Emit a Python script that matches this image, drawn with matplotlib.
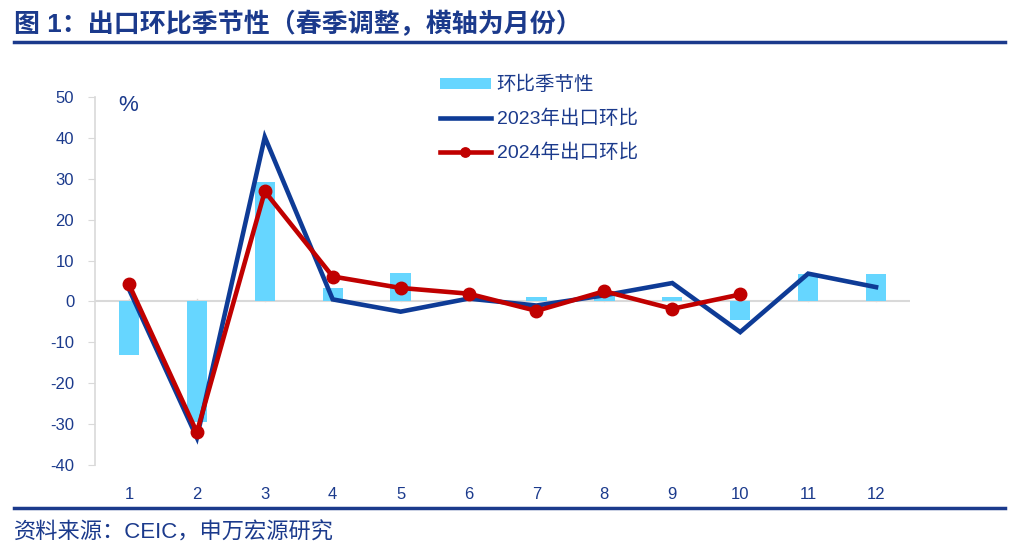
import matplotlib
matplotlib.use("Agg")
import matplotlib.pyplot as plt
from matplotlib.lines import Line2D
import numpy as np

plt.rcParams['font.family'] = ['Liberation Sans', 'Noto Sans CJK SC', 'DejaVu Sans']
plt.rcParams['axes.unicode_minus'] = False

months = [1, 2, 3, 4, 5, 6, 7, 8, 9, 10, 11, 12]
month_labels = [str(m) for m in months]
seasonal = [-13.2, -29.5, 29.3, 3.3, 7.0, 0.0, 1.1, 1.5, 1.2, -4.5, 6.8, 6.8]
exp_2023 = [3.0, -33.3, 40.2, 0.5, -2.5, 0.7, -1.0, 1.5, 4.5, -7.5, 6.8, 3.5]
exp_2024 = [4.2, -32.0, 26.9, 6.1, 3.3, 1.9, -2.3, 2.5, -1.8, 1.7]
yticks = [50, 40, 30, 20, 10, 0, -10, -20, -30, -40]

navy = '#1B3A8C'
bar_c = '#66D6FF'
line23 = '#0E3B96'
line24 = '#C00000'

fig = plt.figure(figsize=(10.24, 5.55), dpi=100)
ax = fig.add_axes([95/1024, 90/555, 815/1024, 368/555])

h_bar = ax.bar(months, seasonal, width=0.3, color=bar_c, label='环比季节性', zorder=2)
ax.axhline(0, color='#D9D9D9', lw=1.5, zorder=1)
for m in months:
    ax.plot([m, m], [0, 0.6], color='#D9D9D9', lw=1, zorder=1)
h23, = ax.plot(months, exp_2023, color=line23, lw=3.3, label='2023年出口环比', zorder=3,
               solid_joinstyle='miter')
h24, = ax.plot(months[:len(exp_2024)], exp_2024, color=line24, lw=3.3, marker='o', ms=9,
               label='2024年出口环比', zorder=4)

ax.set_xlim(0.5, 12.5)
ax.set_ylim(-40, 50)
ax.set_yticks(yticks)
ax.set_xticks(months)
ax.set_xticklabels(month_labels)
for s in ['top', 'right', 'bottom']:
    ax.spines[s].set_visible(False)
ax.spines['left'].set_color('#D9D9D9')
ax.spines['left'].set_linewidth(1.2)
ax.tick_params(axis='y', colors='#D9D9D9', labelcolor=navy, labelsize=12, length=5, pad=10)
ax.tick_params(axis='x', length=0, labelcolor=navy, labelsize=12, pad=16)

ax.text(118/1024, 1 - 105/555, '%', transform=fig.transFigure, fontsize=16, color=navy,
        ha='left', va='center')

leg = ax.legend([h_bar, h23, h24], ['环比季节性', '2023年出口环比', '2024年出口环比'],
                loc='upper left', bbox_to_anchor=(0.402, 1.105), frameon=False,
                fontsize=14, handlelength=2.6, handleheight=0.5, labelspacing=0.8,
                handletextpad=0.3, markerscale=0.75)
for t in leg.get_texts():
    t.set_color(navy)

fig.text(14/1024, 1 - 24/555, '图 1：出口环比季节性（春季调整，横轴为月份）', fontsize=18.7,
         fontweight='bold', color=navy, ha='left', va='center')
fig.add_artist(Line2D([14/1024, 1005/1024], [1 - 42/555, 1 - 42/555], color=navy, lw=2.5))
fig.add_artist(Line2D([14/1024, 1005/1024], [1 - 508/555, 1 - 508/555], color=navy, lw=2.5))
fig.text(14/1024, 1 - 533/555, '资料来源：CEIC，申万宏源研究', fontsize=16, color=navy,
         ha='left', va='center')

fig.savefig('out.png', dpi=100)
